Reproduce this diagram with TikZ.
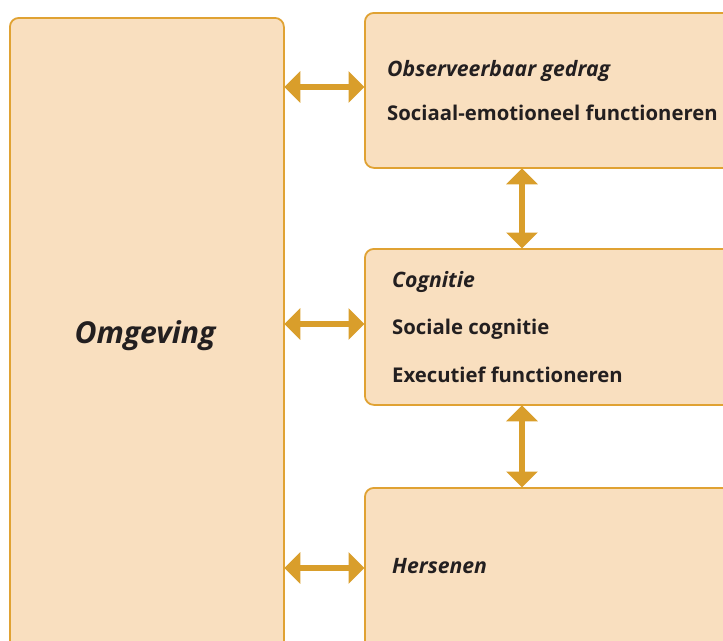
\documentclass[tikz,border=0pt]{standalone}
\usepackage{fontspec}
\setmainfont{Open Sans}
\usetikzlibrary{arrows.meta}
\definecolor{boxfill}{HTML}{F9DFBF}
\definecolor{boxline}{HTML}{E0A233}
\definecolor{arrcol}{HTML}{D99E2B}
\definecolor{txt}{HTML}{231F20}
\tikzset{
  panel/.style={draw=boxline, fill=boxfill, line width=1.8pt, rounded corners=9pt, anchor=north west, inner sep=0pt},
  arr/.style={draw=arrcol, line width=6pt, {Triangle[length=16pt,width=31pt]}-{Triangle[length=16pt,width=31pt]}, shorten <=-0.5pt, shorten >=-0.5pt},
  lbl/.style={anchor=base west, inner sep=0pt, text=txt, font=\fontsize{20.3}{24}\selectfont\bfseries},
  lbli/.style={lbl, font=\fontsize{21.2}{24}\selectfont\bfseries\itshape},
}
\begin{document}
\begin{tikzpicture}[x=1pt,y=-1pt]
\useasboundingbox (0,0) rectangle (723,640);
\clip (0,0) rectangle (723,640);
\node[panel, minimum width=274pt, minimum height=660pt] (omg) at (9,17) {};
\node[panel, minimum width=380pt, minimum height=155pt] (obs) at (364,12) {};
\node[panel, minimum width=380pt, minimum height=156pt] (cog) at (364,248) {};
\node[panel, minimum width=380pt, minimum height=163pt] (her) at (364,487) {};
\node[anchor=base, inner sep=0pt, text=txt, font=\fontsize{30.2}{34}\selectfont\bfseries\itshape] (omgt) at (145,343) {Omgeving};
\node[lbli] (obst) at (387,76) {Observeerbaar gedrag};
\node[lbl] (sef) at (387,120) {Sociaal-emotioneel functioneren};
\node[lbli] (cogt) at (392,287) {Cognitie};
\node[lbl] (sc) at (392,334) {Sociale cognitie};
\node[lbl] (ef) at (392,382) {Executief functioneren};
\node[lbli] (hert) at (392,573) {Hersenen};
\coordinate (vx) at (522,0);
\coordinate (h1) at (0,87);
\coordinate (h2) at (0,324);
\coordinate (h3) at (0,568);
\draw[arr] (omg.east |- h1) -- (obs.west |- h1);
\draw[arr] (omg.east |- h2) -- (cog.west |- h2);
\draw[arr] (omg.east |- h3) -- (her.west |- h3);
\draw[arr] (obs.south -| vx) -- (cog.north -| vx);
\draw[arr] (cog.south -| vx) -- (her.north -| vx);
\end{tikzpicture}
\end{document}
